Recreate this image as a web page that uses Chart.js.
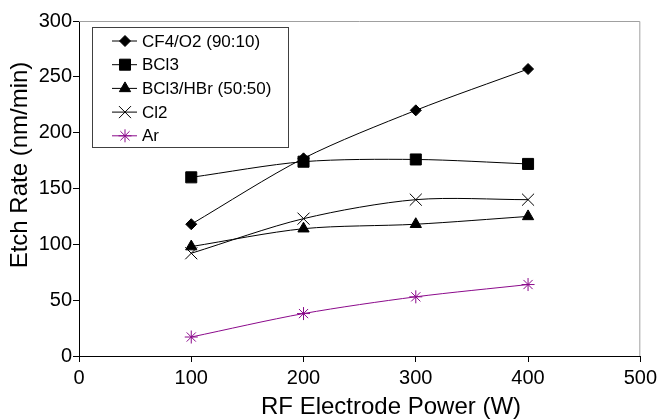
<!DOCTYPE html>
<html>
<head>
<meta charset="utf-8">
<script src="https://cdn.jsdelivr.net/npm/chart.js@4/dist/chart.umd.min.js"></script>
<style>
  html, body { margin: 0; padding: 0; background: #fff; }
  #wrap { width: 661px; height: 419px; }
</style>
</head>
<body>
<div id="wrap"><canvas id="grafico" width="661" height="419"></canvas></div>
<script>
// === DATOS ===
const potencia = [100, 200, 300, 400];
const cf4o2 = [118, 177, 220, 257];
const bcl3 = [160, 174, 176, 172];
const bcl3hbr = [98, 114, 118, 125];
const cl2 = [92, 123, 140, 140];
const ar = [17, 38, 53, 64];
const etiquetas = ["CF4/O2 (90:10)", "BCl3", "BCl3/HBr (50:50)", "Cl2", "Ar"];
const tituloX = "RF Electrode Power (W)";
const tituloY = "Etch Rate (nm/min)";

const FUENTE = "'Liberation Sans', Arial, sans-serif";

function puntos(valores) {
  return potencia.map((x, i) => ({ x: x, y: valores[i] }));
}

function serie(label, valores, estilo, radio, color) {
  return {
    label: label,
    data: puntos(valores),
    borderColor: color,
    backgroundColor: color,
    borderWidth: 1,
    pointStyle: estilo,
    pointRadius: radio,
    pointBorderWidth: 1,
    pointBackgroundColor: color,
    pointBorderColor: color,
    tension: 0.3
  };
}

// === LEYENDA, BORDE Y TÍTULOS ===
const extrasExcel = {
  id: "extrasExcel",
  beforeDatasetsDraw(chart) {
    // borde gris arriba y a la derecha
    const ctx = chart.ctx;
    const a = chart.chartArea;
    ctx.save();
    ctx.strokeStyle = "#a0a0a0";
    ctx.lineWidth = 1;
    ctx.beginPath();
    ctx.moveTo(a.left, a.top + 0.5);
    ctx.lineTo(a.right - 0.5, a.top + 0.5);
    ctx.lineTo(a.right - 0.5, a.bottom);
    ctx.stroke();
    ctx.restore();
  },
  afterDatasetsDraw(chart) {
    const ctx = chart.ctx;
    const a = chart.chartArea;
    const x0 = a.left + 13, y0 = a.top + 6, w = 196, h = 120;
    ctx.save();
    ctx.fillStyle = "#fff";
    ctx.fillRect(x0, y0, w, h);
    ctx.strokeStyle = "#404040";
    ctx.lineWidth = 1;
    ctx.strokeRect(x0 + 0.5, y0 + 0.5, w, h);
    ctx.font = "17px " + FUENTE;
    ctx.textBaseline = "middle";
    chart.data.datasets.forEach((ds, i) => {
      const y = y0 + 14 + i * 23.7;
      ctx.strokeStyle = ds.borderColor;
      ctx.beginPath();
      ctx.moveTo(x0 + 20, y);
      ctx.lineTo(x0 + 45, y);
      ctx.stroke();
      ctx.fillStyle = ds.backgroundColor;
      Chart.helpers.drawPoint(ctx, {
        pointStyle: ds.pointStyle,
        radius: ds.pointRadius,
        borderWidth: ds.pointBorderWidth,
        rotation: 0
      }, x0 + 33, y);
      ctx.fillStyle = "#000";
      ctx.fillText(ds.label, x0 + 50, y + 1);
    });
    ctx.restore();
  },
  afterDraw(chart) {
    const ctx = chart.ctx;
    ctx.save();
    ctx.fillStyle = "#000";
    ctx.font = "24px " + FUENTE;
    ctx.textAlign = "center";
    ctx.textBaseline = "middle";
    ctx.fillText(tituloX, 391, 407);
    ctx.translate(20, 165);
    ctx.rotate(-Math.PI / 2);
    ctx.fillText(tituloY, 0, 0);
    ctx.restore();
  }
};

new Chart(document.getElementById("grafico"), {
  type: "line",
  data: {
    datasets: [
      serie(etiquetas[0], cf4o2, "rectRot", 5.5, "#000"),
      serie(etiquetas[1], bcl3, "rect", 7.8, "#000"),
      serie(etiquetas[2], bcl3hbr, "triangle", 6.5, "#000"),
      serie(etiquetas[3], cl2, "crossRot", 8.5, "#000"),
      serie(etiquetas[4], ar, "star", 6.5, "#8b0a8b")
    ]
  },
  options: {
    responsive: false,
    animation: false,
    layout: { padding: { left: 0, right: 15, top: 21, bottom: 0 } },
    plugins: { legend: { display: false }, tooltip: { enabled: false } },
    scales: {
      x: {
        type: "linear",
        min: 0, max: 500,
        ticks: { stepSize: 100, color: "#000", font: { family: FUENTE, size: 20 }, padding: 4 },
        grid: { drawOnChartArea: false, drawTicks: true, tickLength: 6, color: "#000" },
        border: { color: "#000", width: 1 },
        afterFit(scale) { scale.height = 63; }
      },
      y: {
        min: 0, max: 300,
        ticks: { stepSize: 50, color: "#000", font: { family: FUENTE, size: 20 }, padding: 1 },
        grid: { drawOnChartArea: false, drawTicks: true, tickLength: 6, color: "#000" },
        border: { color: "#000", width: 1 },
        afterFit(scale) { scale.width = 79; }
      }
    }
  },
  plugins: [extrasExcel]
});
</script>
</body>
</html>
